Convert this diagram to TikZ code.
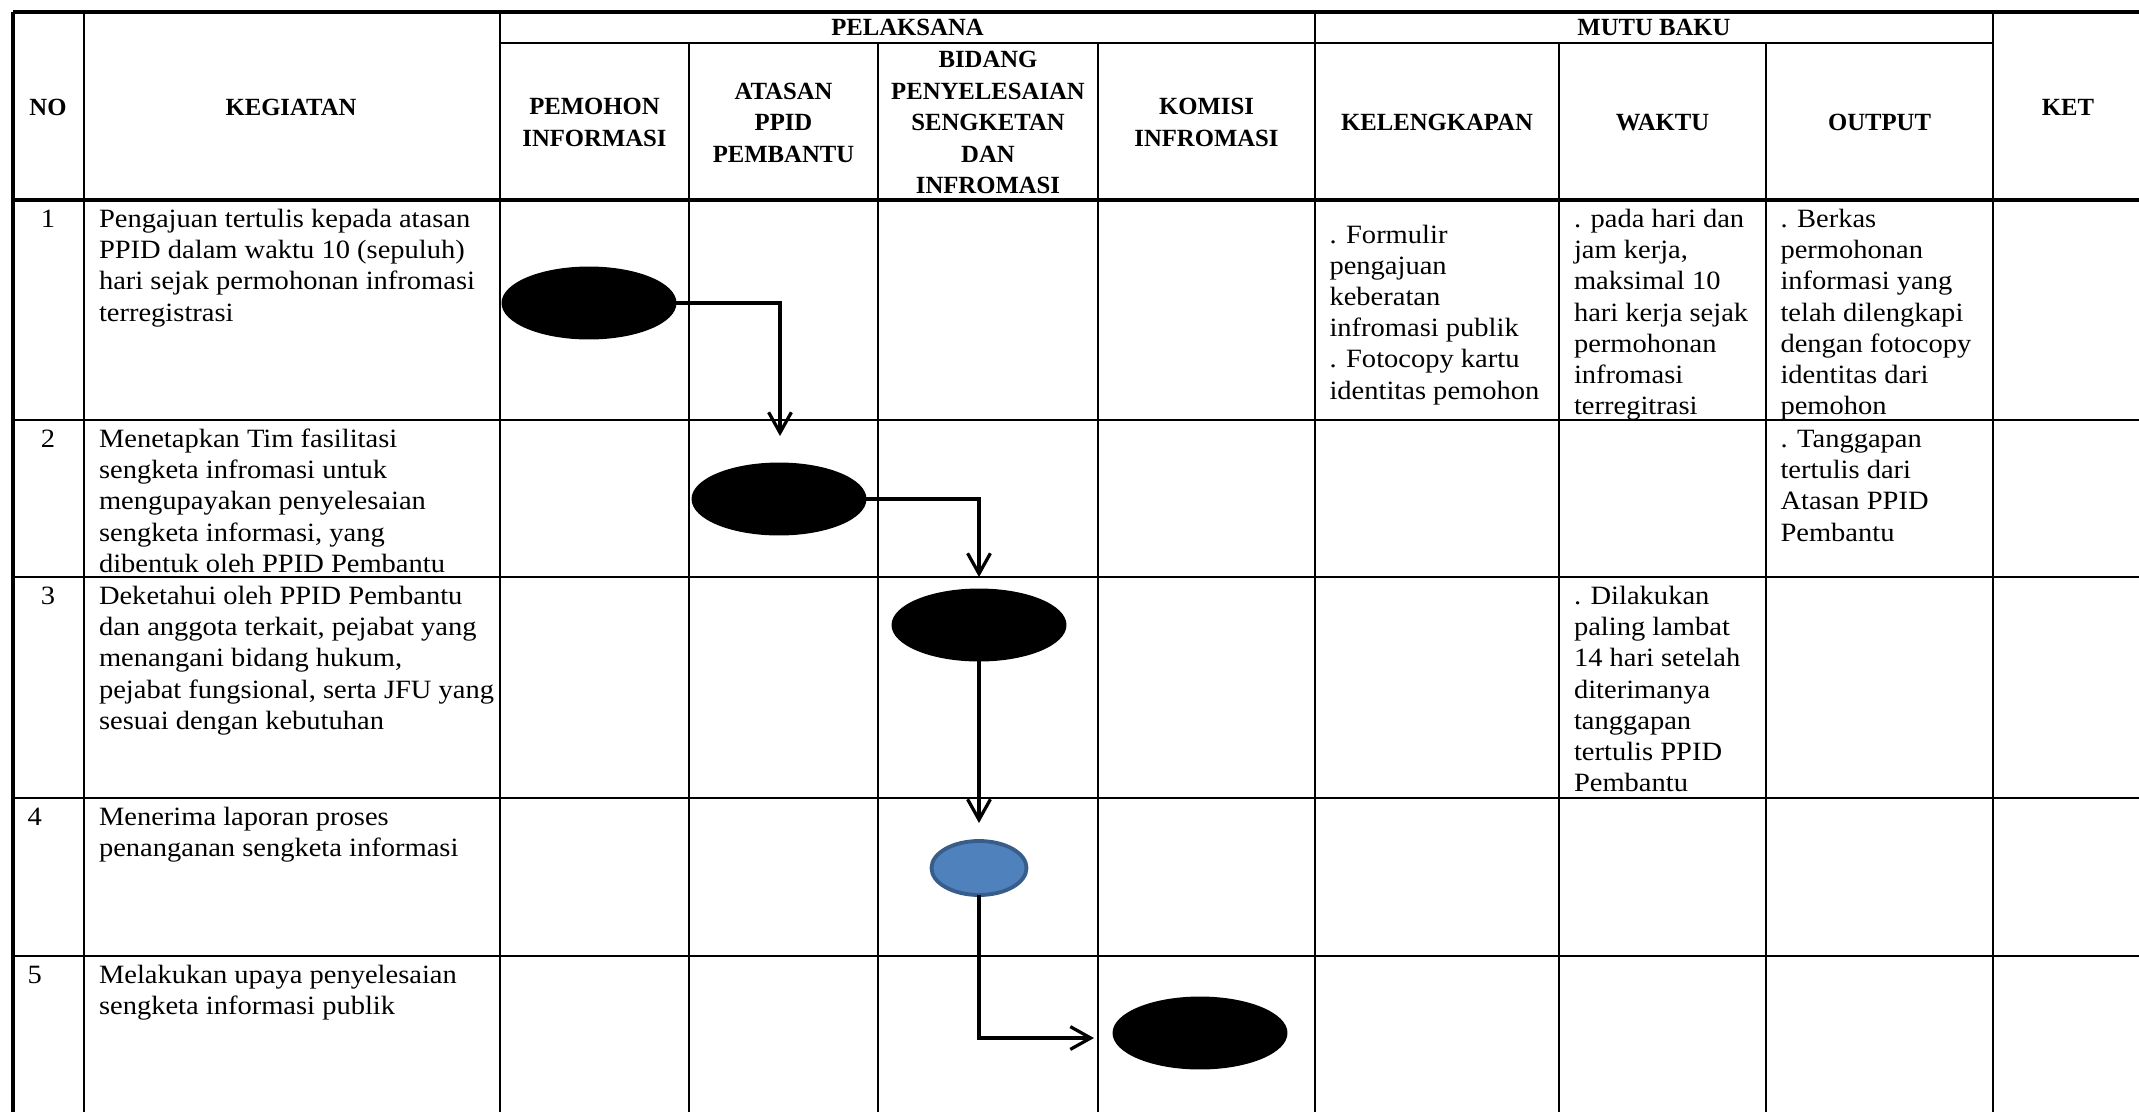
\documentclass[tikz,border=0pt]{standalone}
\usepackage{fontspec}
\setmainfont{Liberation Serif}
\newfontfamily\bodyfam{Liberation Serif}[FakeStretch=1.08]
\usetikzlibrary{arrows.meta,shapes.geometric}
\definecolor{blueFill}{HTML}{4F81BD}
\definecolor{blueLine}{HTML}{385D8A}
\newcommand\bodyf{\bodyfam\fontsize{11}{13}\selectfont}
\newcommand\headf{\bfseries\fontsize{10.3}{13.1}\selectfont}
\newcommand\firststrut{\rule{0pt}{9pt}}
\begin{document}
\begin{tikzpicture}[x=0.416667pt,y=-0.416667pt,
  thinline/.style={line width=1.0pt},
  boldline/.style={line width=1.3pt},
  body/.style={anchor=north west, yshift=9pt, inner sep=0pt, outer sep=0pt, align=left, font=\bodyf},
  numc/.style={anchor=north, yshift=9pt, inner sep=0pt, outer sep=0pt, font=\bodyf},
  head/.style={align=center, inner sep=0pt, outer sep=0pt, font=\headf},
  blk/.style={ellipse, fill=black, draw=none, minimum width=72.9pt, minimum height=30.4pt, inner sep=0pt, outer sep=0pt},
  blu/.style={ellipse, fill=blueFill, draw=blueLine, line width=1.6pt, minimum width=39.6pt, minimum height=22.5pt, inner sep=0pt, outer sep=0pt},
  conn/.style={line width=1.35pt, -{Straight Barb[length=8.5pt,width=9.5pt]}}
]
\useasboundingbox (0,0) rectangle (2139,1112);

% ---- table grid ----
\draw[boldline] (13,12) -- (2139,12);
\draw[boldline] (13,12) -- (13,1112);
\draw[boldline] (13,200) -- (2139,200);
\foreach \yy in {420,577,798,956} \draw[thinline] (13,\yy) -- (2139,\yy);
\foreach \xx in {84,500,1315,1993} \draw[thinline] (\xx,12) -- (\xx,1112);
\foreach \xx in {689,878,1098,1559,1766} \draw[thinline] (\xx,43) -- (\xx,1112);
\draw[thinline] (500,43) -- (1993,43);

% ---- headers ----
\node[head] (hNo) at (48,107.5) {NO};
\node[head] (hKeg) at (291,107.5) {KEGIATAN};
\node[head] (hPel) at (907.5,27.5) {PELAKSANA};
\node[head] (hMutu) at (1654,27.5) {MUTU BAKU};
\node[head] (hKet) at (2068,107.5) {KET};
\node[head] (hPem) at (594.5,122.5) {PEMOHON\\INFORMASI};
\node[head] (hAta) at (783.5,122.5) {ATASAN\\PPID\\PEMBANTU};
\node[head] (hBid) at (988,122.5) {BIDANG\\PENYELESAIAN\\SENGKETAN\\DAN\\INFROMASI};
\node[head] (hKom) at (1206.5,122.5) {KOMISI\\INFROMASI};
\node[head] (hKel) at (1437,122.5) {KELENGKAPAN};
\node[head] (hWak) at (1662.5,122.5) {WAKTU};
\node[head] (hOut) at (1879.5,122.5) {OUTPUT};

% ---- numbers ----
\node[numc] (n1) at (48,227.5) {\firststrut 1};
\node[numc] (n2) at (48,447.5) {\firststrut 2};
\node[numc] (n3) at (48,604.5) {\firststrut 3};
\node[body] (n4) at (27.5,825.5) {\firststrut 4};
\node[body] (n5) at (27.5,983.5) {\firststrut 5};

% ---- kegiatan ----
\node[body] (k1) at (99,227.5) {\firststrut Pengajuan tertulis kepada atasan\\PPID dalam waktu 10 (sepuluh)\\hari sejak permohonan infromasi\\terregistrasi};
\node[body] (k2) at (99,447.5) {\firststrut Menetapkan Tim fasilitasi\\sengketa infromasi untuk\\mengupayakan penyelesaian\\sengketa informasi, yang\\dibentuk oleh PPID Pembantu};
\node[body] (k3) at (99,604.5) {\firststrut Deketahui oleh PPID Pembantu\\dan anggota terkait, pejabat yang\\menangani bidang hukum,\\pejabat fungsional, serta JFU yang\\sesuai dengan kebutuhan};
\node[body] (k4) at (99,825.5) {\firststrut Menerima laporan proses\\penanganan sengketa informasi};
\node[body] (k5) at (99,983.5) {\firststrut Melakukan upaya penyelesaian\\sengketa informasi publik};

% ---- mutu baku ----
\node[body] (kel1) at (1329.5,243) {\firststrut . Formulir\\pengajuan\\keberatan\\infromasi publik\\. Fotocopy kartu\\identitas pemohon};
\node[body] (w1) at (1574,227.5) {\firststrut . pada hari dan\\jam kerja,\\maksimal 10\\hari kerja sejak\\permohonan\\infromasi\\terregitrasi};
\node[body] (o1) at (1780.5,227.5) {\firststrut . Berkas\\permohonan\\informasi yang\\telah dilengkapi\\dengan fotocopy\\identitas dari\\pemohon};
\node[body] (o2) at (1780.5,447.5) {\firststrut . Tanggapan\\tertulis dari\\Atasan PPID\\Pembantu};
\node[body] (w3) at (1574,604.5) {\firststrut . Dilakukan\\paling lambat\\14 hari setelah\\diterimanya\\tanggapan\\tertulis PPID\\Pembantu};

% ---- flow shapes ----
\node[blk] (e1) at (589,303) {};
\node[blk] (e2) at (779,499) {};
\node[blk] (e3) at (979,625) {};
\node[blu] (eb) at (979,868) {};
\node[blk] (e4) at (1200,1033) {};

\coordinate (t1) at (780,436);
\coordinate (t2) at (979,577);
\coordinate (t3) at (979,823);
\coordinate (t4) at (1094,1038);

\draw[conn] (e1.east) -| (t1);
\draw[conn] (e2.east) -| (t2);
\draw[conn] (e3.south) -- (t3);
\draw[conn] (eb.south) |- (t4);
\end{tikzpicture}
\end{document}
